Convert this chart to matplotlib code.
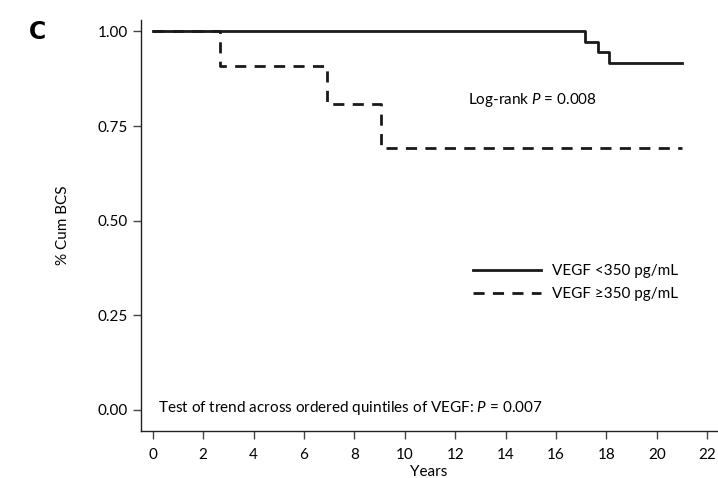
import matplotlib.pyplot as plt

plt.rcParams['font.family'] = ['Lato', 'DejaVu Sans']
plt.rcParams['mathtext.fontset'] = 'custom'
plt.rcParams['mathtext.it'] = 'Lato:italic'
plt.rcParams['mathtext.rm'] = 'Lato'

# Kaplan-Meier step data
low_years = [0, 17.14, 17.68, 18.1, 21.0]
low_surv = [1.0, 0.973, 0.945, 0.916, 0.916]
high_years = [0, 2.66, 6.92, 9.06, 21.0]
high_surv = [1.0, 0.909, 0.808, 0.692, 0.692]

x_ticks = list(range(0, 23, 2))
y_ticks = [0.0, 0.25, 0.50, 0.75, 1.00]

fig = plt.figure(figsize=(7.18, 4.78), dpi=100)
ax = fig.add_axes([0.196, 0.098, 0.803, 0.86])

ax.step(low_years, low_surv, where='post', color='#1a1a1a', lw=2, label='VEGF <350 pg/mL')
ax.step(high_years, high_surv, where='post', color='#1a1a1a', lw=2, ls=(0, (4, 3)),
        label='VEGF \u2265350 pg/mL')

ax.set_xlim(-0.48, 22.4)
ax.set_ylim(-0.056, 1.03)
ax.set_xticks(x_ticks)
ax.set_yticks(y_ticks)
ax.set_yticklabels([f'{v:.2f}' for v in y_ticks])
ax.tick_params(axis='both', labelsize=11, length=6, width=1, color='#444444')
ax.tick_params(axis='x', pad=6)
for s in ['top', 'right']:
    ax.spines[s].set_visible(False)
for s in ['left', 'bottom']:
    ax.spines[s].set_linewidth(1)
    ax.spines[s].set_color('#222222')

ax.set_xlabel('Years', fontsize=11, labelpad=2)
ax.set_ylabel('% Cum BCS', fontsize=11, labelpad=20)

ax.text(12.5, 0.82, 'Log-rank $P$ = 0.008', fontsize=11, va='center')
ax.text(0.2, 0.005, 'Test of trend across ordered quintiles of VEGF: $P$ = 0.007',
        fontsize=11, va='center')

ax.legend(loc='upper left', bbox_to_anchor=(0.552, 0.44), frameon=False, fontsize=11,
          handlelength=4.45, handletextpad=0.75, labelspacing=0.6)

fig.text(0.04, 0.918, 'C', fontsize=17, fontweight='bold', fontfamily='DejaVu Sans')

fig.savefig('out.png', dpi=100)
